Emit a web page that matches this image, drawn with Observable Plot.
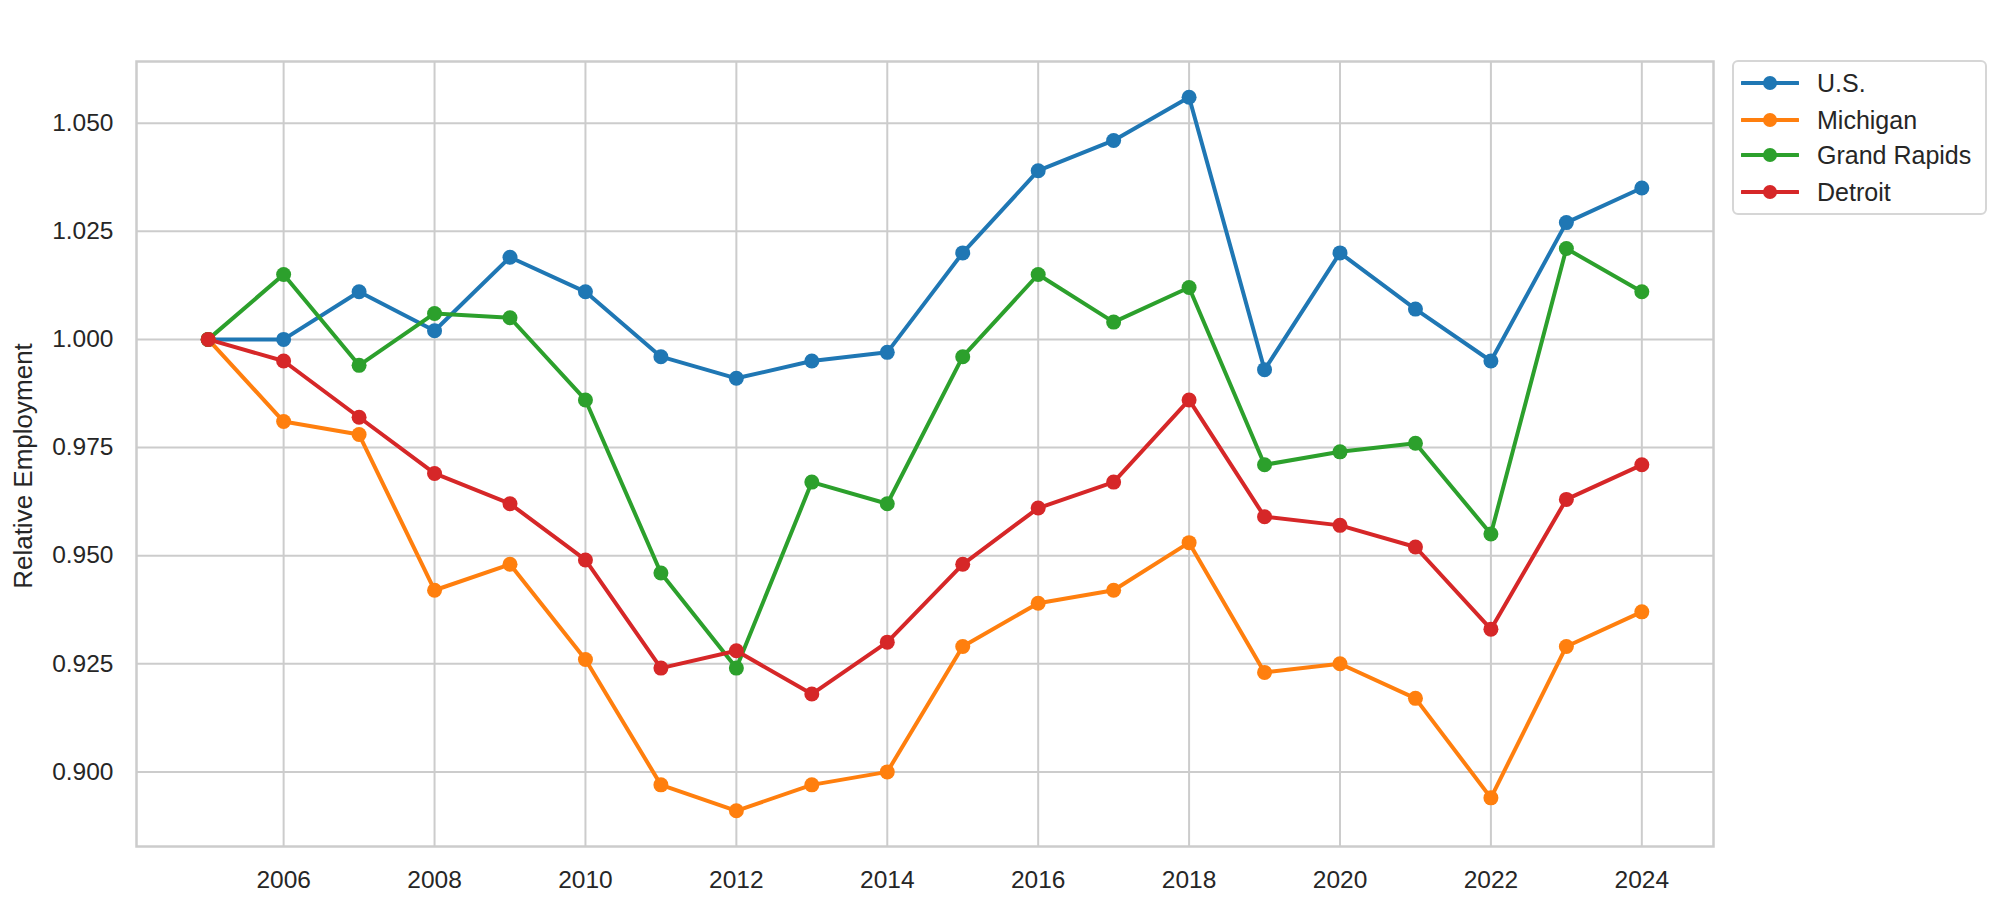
<!DOCTYPE html>
<html>
<head>
<meta charset="utf-8">
<script src="https://cdn.jsdelivr.net/npm/d3@7"></script>
<script src="https://cdn.jsdelivr.net/npm/@observablehq/plot@0.6"></script>
<style>
  body { margin: 0; background: #ffffff; font-family: "Liberation Sans", Arial, sans-serif; }
  #wrap { position: relative; width: 2000px; height: 913px; overflow: hidden; }
  #legend { position: absolute; left: 1732px; top: 60px; width: 251px; height: 151px;
            border: 2px solid #d6d6d6; border-radius: 6px; background: #fff; }
  .item { position: absolute; left: 0; height: 30px; display: flex; align-items: center; }
  .item svg { margin-left: 7px; }
  .item span { margin-left: 18px; font-size: 25px; color: #262626; line-height: 30px; white-space: nowrap; }
</style>
</head>
<body>
<div id="wrap"></div>
<script>
const years = [2005, 2006, 2007, 2008, 2009, 2010, 2011, 2012, 2013, 2014, 2015, 2016, 2017, 2018, 2019, 2020, 2021, 2022, 2023, 2024];
const us = [1.000, 1.000, 1.011, 1.002, 1.019, 1.011, 0.996, 0.991, 0.995, 0.997, 1.020, 1.039, 1.046, 1.056, 0.993, 1.020, 1.007, 0.995, 1.027, 1.035];
const michigan = [1.000, 0.981, 0.978, 0.942, 0.948, 0.926, 0.897, 0.891, 0.897, 0.900, 0.929, 0.939, 0.942, 0.953, 0.923, 0.925, 0.917, 0.894, 0.929, 0.937];
const grandRapids = [1.000, 1.015, 0.994, 1.006, 1.005, 0.986, 0.946, 0.924, 0.967, 0.962, 0.996, 1.015, 1.004, 1.012, 0.971, 0.974, 0.976, 0.955, 1.021, 1.011];
const detroit = [1.000, 0.995, 0.982, 0.969, 0.962, 0.949, 0.924, 0.928, 0.918, 0.930, 0.948, 0.961, 0.967, 0.986, 0.959, 0.957, 0.952, 0.933, 0.963, 0.971];
const seriesNames = ["U.S.", "Michigan", "Grand Rapids", "Detroit"];
const seriesColors = ["#1f77b4", "#ff7f0e", "#2ca02c", "#d62728"];
const xTicks = [2006, 2008, 2010, 2012, 2014, 2016, 2018, 2020, 2022, 2024];
const yTicks = [0.900, 0.925, 0.950, 0.975, 1.000, 1.025, 1.050];
const yLabel = "Relative Employment";

const seriesValues = [us, michigan, grandRapids, detroit];
const rows = [];
seriesNames.forEach((name, si) => {
  years.forEach((yr, i) => rows.push({series: name, year: yr, value: seriesValues[si][i]}));
});

const seriesMarks = [];
seriesNames.forEach(name => {
  const data = rows.filter(r => r.series === name);
  seriesMarks.push(Plot.line(data, {x: "year", y: "value", stroke: "series", strokeWidth: 4}));
  seriesMarks.push(Plot.dot(data, {x: "year", y: "value", fill: "series", r: 7.5, stroke: "none"}));
});

const chart = Plot.plot({
  width: 2000,
  height: 913,
  marginLeft: 136,
  marginRight: 287,
  marginTop: 61,
  marginBottom: 67,
  style: {fontFamily: "'Liberation Sans', Arial, sans-serif", fontSize: "24.5px", color: "#262626", background: "#ffffff"},
  x: {domain: [2004.05, 2024.95]},
  y: {domain: [0.88275, 1.06425]},
  color: {domain: seriesNames, range: seriesColors},
  marks: [
    Plot.gridX(xTicks, {stroke: "#cccccc", strokeOpacity: 1, strokeWidth: 2}),
    Plot.gridY(yTicks, {stroke: "#cccccc", strokeOpacity: 1, strokeWidth: 2}),
    Plot.axisX(xTicks, {tickSize: 0, tickPadding: 24, tickFormat: d => String(d), label: null, fill: "#262626"}),
    Plot.axisY(yTicks, {tickSize: 0, tickPadding: 23, tickFormat: d3.format(".3f"), label: null, fill: "#262626"}),
    Plot.text([yLabel], {text: d => d, frameAnchor: "left", textAnchor: "middle", rotate: -90, dx: -113, dy: 12, fontSize: 26, fill: "#262626"}),
    ...seriesMarks,
    Plot.frame({stroke: "#cccccc", strokeOpacity: 1, strokeWidth: 2.5})
  ]
});

const wrap = document.getElementById("wrap");
wrap.appendChild(chart);

const legend = document.createElement("div");
legend.id = "legend";
const itemTops = [6, 43, 78, 115];
seriesNames.forEach((name, i) => {
  const item = document.createElement("div");
  item.className = "item";
  item.style.top = itemTops[i] + "px";
  item.innerHTML = `<svg width="58" height="16"><line x1="1" y1="8" x2="57" y2="8" stroke="${seriesColors[i]}" stroke-width="4" stroke-linecap="round"/><circle cx="29" cy="8" r="7" fill="${seriesColors[i]}"/></svg><span>${name}</span>`;
  legend.appendChild(item);
});
wrap.appendChild(legend);
</script>
</body>
</html>
